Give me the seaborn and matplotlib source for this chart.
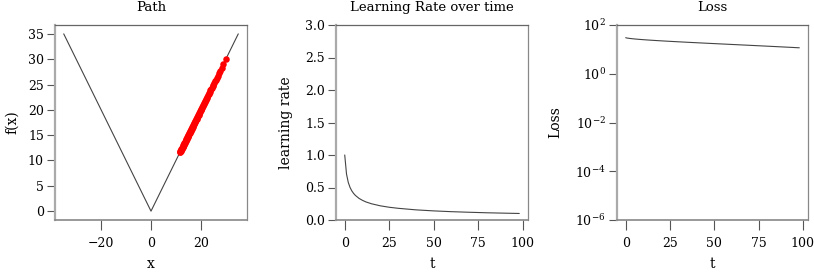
import matplotlib
matplotlib.use("Agg")
import matplotlib.pyplot as plt
import numpy as np
import pandas as pd
import seaborn as sns

# objective f(x) = |x|, drawn as a polyline
curve_x = [-35, 0, 35]
curve_y = [35, 0, 35]

# iterates x_t for t = 0..98
path_x = [30.00, 29.00, 28.29, 27.72, 27.22, 26.77, 26.36, 25.98, 25.63, 25.30,
          24.98, 24.68, 24.39, 24.11, 23.84, 23.59, 23.34, 23.09, 22.86, 22.63,
          22.40, 22.19, 21.97, 21.76, 21.56, 21.36, 21.16, 20.97, 20.78, 20.60,
          20.42, 20.24, 20.06, 19.88, 19.71, 19.54, 19.38, 19.21, 19.05, 18.89,
          18.73, 18.58, 18.42, 18.27, 18.12, 17.97, 17.82, 17.68, 17.53, 17.39,
          17.25, 17.11, 16.97, 16.83, 16.70, 16.56, 16.43, 16.30, 16.16, 16.03,
          15.90, 15.78, 15.65, 15.52, 15.40, 15.27, 15.15, 15.03, 14.91, 14.79,
          14.67, 14.55, 14.43, 14.31, 14.20, 14.08, 13.97, 13.85, 13.74, 13.63,
          13.52, 13.41, 13.29, 13.19, 13.08, 12.97, 12.86, 12.75, 12.65, 12.54,
          12.43, 12.33, 12.23, 12.12, 12.02, 11.92, 11.81, 11.71, 11.61]
steps = list(range(len(path_x)))

# learning rate schedule (sampled)
lr_t = [0, 1, 2, 3, 4, 5, 6, 8, 10, 12, 15, 20, 25, 30, 40, 50, 60, 70, 80, 90, 98]
lr_val = [1.0, 0.707, 0.577, 0.5, 0.447, 0.408, 0.378, 0.333, 0.302, 0.277, 0.25,
          0.218, 0.196, 0.180, 0.156, 0.140, 0.128, 0.119, 0.111, 0.105, 0.1005]

sns.set_theme(style="ticks")
plt.rcParams["font.family"] = ["DejaVu Serif"]
plt.rcParams["text.color"] = "black"
plt.rcParams["axes.labelcolor"] = "black"
plt.rcParams["xtick.labelcolor"] = "black"
plt.rcParams["ytick.labelcolor"] = "black"

line_c = "#444444"
tick_fs = 9
label_fs = 10
title_fs = 9.5

fig = plt.figure(figsize=(8.14, 2.72), dpi=100)
W, H = 814, 272
boxes = [(55, 247), (336, 528), (617, 808)]
axes = [fig.add_axes([l / W, 1 - 220 / H, (r - l) / W, (220 - 25) / H]) for l, r in boxes]

# Path
ax = axes[0]
sns.lineplot(x=curve_x, y=curve_y, ax=ax, color=line_c, lw=0.8, sort=False)
sns.scatterplot(x=path_x, y=path_x, ax=ax, color="red", s=22, linewidth=0, zorder=3)
ax.set_title("Path", fontsize=title_fs, pad=10)
ax.set_xlabel("x", fontsize=label_fs)
ax.set_ylabel("f(x)", fontsize=label_fs, labelpad=6)
ax.set_xticks([-20, 0, 20])
ax.set_yticks([0, 5, 10, 15, 20, 25, 30, 35])

# Learning rate
ax = axes[1]
sns.lineplot(x=lr_t, y=lr_val, ax=ax, color=line_c, lw=0.8)
ax.set_ylim(0, 3)
ax.set_title("Learning Rate over time", fontsize=title_fs, pad=10)
ax.set_xlabel("t", fontsize=label_fs)
ax.set_ylabel("learning rate", fontsize=label_fs, labelpad=9)
ax.set_xticks([0, 25, 50, 75, 100])

# Loss
ax = axes[2]
sns.lineplot(x=steps, y=path_x, ax=ax, color=line_c, lw=0.8)
ax.set_yscale("log")
ax.set_ylim(1e-6, 1e2)
ax.set_yticks([1e-6, 1e-4, 1e-2, 1e0, 1e2])
ax.minorticks_off()
ax.set_title("Loss", fontsize=title_fs, pad=10)
ax.set_xlabel("t", fontsize=label_fs)
ax.set_ylabel("Loss", fontsize=label_fs, labelpad=9)
ax.set_xticks([0, 25, 50, 75, 100])

for ax in axes:
    ax.tick_params(axis="x", labelsize=tick_fs, length=7, width=0.8, color="#555555", pad=5)
    ax.tick_params(axis="y", labelsize=tick_fs, length=6, width=0.8, color="#555555", pad=2)
    ax.xaxis.labelpad = 5.5
    ax.spines["left"].set_color("#aaaaaa")
    ax.spines["left"].set_linewidth(1.6)
    ax.spines["bottom"].set_color("#888888")
    ax.spines["bottom"].set_linewidth(1.2)
    ax.spines["top"].set_color("#666666")
    ax.spines["right"].set_color("#888888")
    ax.spines["top"].set_linewidth(0.9)
    ax.spines["right"].set_linewidth(0.9)

fig.savefig("out.png", dpi=100)
plt.close(fig)
